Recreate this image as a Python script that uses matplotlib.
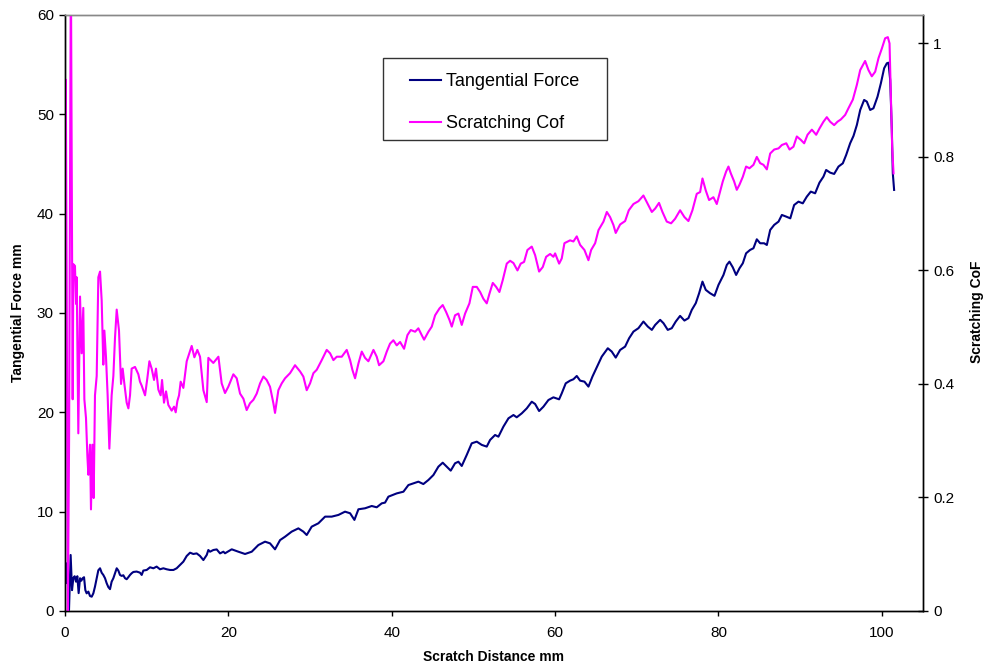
import matplotlib
matplotlib.use("Agg")
import matplotlib.pyplot as plt
from matplotlib.patches import Rectangle

plt.rcParams['font.family'] = ['Liberation Sans', 'DejaVu Sans']

# ---------------- data ----------------
force_x = [0.05, 0.12, 0.2, 0.33, 0.49, 0.69, 0.86, 1.02, 1.18, 1.35, 1.51, 1.67, 1.84, 2.0, 2.16,
           2.33, 2.49, 2.65, 2.86, 3.06, 3.27, 3.47, 3.67, 3.88, 4.08, 4.29, 4.49, 4.69, 4.90, 5.10,
           5.31, 5.51, 5.71, 5.92, 6.12, 6.33, 6.53, 6.73, 6.94, 7.14, 7.35, 7.55, 7.75, 7.96, 8.16,
           8.37, 8.77, 9.18, 9.39, 9.59, 10.0, 10.41, 10.82, 11.22, 11.63, 12.04, 12.45, 12.86, 13.27,
           13.67, 14.08, 14.49, 14.90, 15.31, 15.71, 16.12, 16.53, 16.94, 17.35, 17.55, 17.76, 18.16,
           18.57, 18.98, 19.39, 19.59, 20.41, 21.22, 22.04, 22.86, 23.67, 24.49, 25.10, 25.71, 26.33,
           26.94, 27.75, 28.57, 29.18, 29.59, 30.20, 31.02, 31.84, 32.65, 33.47, 34.28, 34.9, 35.43,
           35.92, 36.73, 37.55, 38.16, 38.78, 39.18, 39.59, 40.61, 41.43, 42.04, 42.65, 43.26, 43.87,
           44.49, 45.10, 45.71, 46.24, 46.73, 47.22, 47.75, 48.16, 48.57, 49.18, 49.79, 50.41, 51.02,
           51.63, 52.04, 52.65, 53.06, 53.67, 54.29, 54.90, 55.30, 55.92, 56.53, 57.14, 57.55, 58.04,
           58.57, 59.18, 59.79, 60.49, 60.81, 61.30, 61.83, 62.24, 62.65, 63.06, 63.59, 64.08, 64.57,
           65.10, 65.71, 66.45, 66.93, 67.42, 67.96, 68.57, 69.06, 69.59, 70.2, 70.81, 71.35, 71.84,
           72.25, 72.86, 73.27, 73.79, 74.28, 74.77, 75.3, 75.83, 76.32, 76.73, 77.22, 77.63, 78.04,
           78.44, 78.97, 79.51, 80.0, 80.61, 81.02, 81.34, 81.75, 82.16, 82.57, 82.98, 83.38, 83.87,
           84.28, 84.69, 85.1, 85.59, 85.92, 86.33, 86.82, 87.35, 87.76, 88.3, 88.79, 89.26, 89.79,
           90.32, 90.81, 91.30, 91.83, 92.36, 92.85, 93.18, 93.67, 94.16, 94.69, 95.22, 95.63, 96.12,
           96.53, 96.94, 97.35, 97.83, 98.16, 98.57, 98.97, 99.47, 99.88, 100.28, 100.61, 100.81,
           101.02, 101.22, 101.34, 101.5]
force_y = [4.6, 2.8, 4.8, 4.0, 0.1, 5.64, 2.1, 3.3, 3.5, 2.95, 3.5, 1.8, 3.3, 3.05, 3.3,
           3.4, 2.1, 1.78, 1.95, 1.51, 1.44, 1.78, 2.45, 3.3, 4.1, 4.3, 3.85, 3.63, 3.3, 2.8,
           2.4, 2.2, 2.95, 3.3, 3.8, 4.3, 4.07, 3.63, 3.53, 3.6, 3.3, 3.2, 3.4, 3.63, 3.8,
           3.93, 3.97, 3.86, 3.63, 4.07, 4.13, 4.4, 4.3, 4.47, 4.2, 4.3, 4.2, 4.13, 4.13,
           4.3, 4.63, 4.97, 5.54, 5.87, 5.74, 5.8, 5.54, 5.13, 5.64, 6.14, 5.97, 6.14,
           6.2, 5.8, 5.97, 5.81, 6.21, 5.97, 5.74, 5.97, 6.64, 6.98, 6.81, 6.21, 7.14,
           7.48, 7.99, 8.32, 7.99, 7.65, 8.49, 8.83, 9.5, 9.5, 9.67, 10.0, 9.84, 9.17,
           10.24, 10.34, 10.57, 10.44, 10.84, 10.91, 11.51, 11.84, 12.01, 12.68, 12.85, 13.02, 12.78,
           13.19, 13.69, 14.53, 14.93, 14.53, 14.13, 14.87, 15.03, 14.6, 15.71, 16.88, 17.05, 16.72,
           16.55, 17.22, 17.72, 17.55, 18.56, 19.4, 19.73, 19.5, 19.9, 20.4, 21.07, 20.84, 20.13,
           20.57, 21.24, 21.51, 21.31, 21.91, 22.92, 23.19, 23.33, 23.66, 23.19, 23.09, 22.59, 23.6,
           24.54, 25.61, 26.45, 26.12, 25.51, 26.28, 26.62, 27.46, 28.13, 28.47, 29.14, 28.63, 28.3,
           28.8, 29.31, 28.97, 28.3, 28.47, 29.14, 29.71, 29.24, 29.48, 30.31, 30.99, 31.99, 33.16,
           32.33, 31.99, 31.73, 32.83, 33.83, 34.84, 35.17, 34.6, 33.83, 34.5, 35.01, 36.01, 36.35,
           36.52, 37.42, 37.02, 37.02, 36.85, 38.36, 38.87, 39.2, 39.87, 39.7, 39.53, 40.87, 41.21,
           41.04, 41.71, 42.22, 42.05, 43.12, 43.73, 44.40, 44.13, 44.0, 44.74, 45.07, 45.91, 47.09,
           47.83, 48.93, 50.44, 51.45, 51.28, 50.44, 50.61, 51.78, 53.13, 54.64, 55.14, 55.2,
           53.47, 48.43, 44.07, 42.39]

cof_x = [0.0, 0.1, 0.2, 0.35, 0.5, 0.72, 0.94, 1.02, 1.22, 1.35, 1.43, 1.63, 1.84, 2.04, 2.24,
         2.37, 2.57, 2.74, 2.86, 3.06, 3.18, 3.35, 3.51, 3.67, 3.88, 4.08, 4.29, 4.49, 4.69, 4.82,
         5.02, 5.22, 5.43, 5.71, 5.92, 6.12, 6.33, 6.61, 6.86, 7.06, 7.27, 7.55, 7.76, 7.96, 8.16,
         8.57, 8.98, 9.18, 9.39, 9.80, 10.08, 10.33, 10.61, 10.90, 11.14, 11.43, 11.71, 11.88, 12.12,
         12.37, 12.65, 13.06, 13.35, 13.55, 13.76, 13.96, 14.16, 14.49, 14.90, 15.51, 15.84, 16.20,
         16.53, 16.94, 17.35, 17.55, 18.16, 18.78, 19.18, 19.59, 19.99, 20.61, 21.02, 21.43, 21.84,
         22.24, 22.65, 23.06, 23.47, 23.88, 24.29, 24.69, 25.10, 25.51, 25.71, 26.12, 26.53, 26.94,
         27.55, 28.16, 28.78, 29.18, 29.59, 30.0, 30.41, 30.82, 31.43, 32.04, 32.45, 32.86, 33.27,
         33.88, 34.49, 34.90, 35.18, 35.51, 35.92, 36.33, 36.73, 37.14, 37.76, 38.16, 38.45, 38.98,
         39.39, 39.79, 40.2, 40.61, 41.02, 41.51, 41.92, 42.33, 42.86, 43.26, 43.67, 43.96, 44.49,
         44.9, 45.31, 45.84, 46.24, 46.65, 47.06, 47.35, 47.75, 48.16, 48.57, 48.98, 49.51, 49.92,
         50.41, 50.82, 51.22, 51.63, 51.96, 52.37, 52.78, 53.18, 53.59, 54.08, 54.49, 54.9, 55.39,
         55.79, 56.2, 56.61, 57.14, 57.55, 58.04, 58.49, 58.9, 59.39, 59.79, 60.0, 60.49, 60.81,
         61.14, 61.83, 62.24, 62.65, 63.06, 63.59, 64.08, 64.41, 64.90, 65.31, 65.92, 66.33, 66.73,
         67.14, 67.42, 67.96, 68.57, 69.02, 69.59, 70.2, 70.81, 71.35, 71.84, 72.25, 72.72, 73.14,
         73.67, 74.2, 74.69, 75.3, 75.83, 76.32, 76.81, 77.34, 77.75, 78.04, 78.44, 78.85, 79.38,
         79.79, 80.2, 80.53, 80.93, 81.22, 81.51, 81.91, 82.24, 82.57, 82.98, 83.38, 83.79, 84.28,
         84.69, 85.1, 85.51, 85.92, 86.33, 86.82, 87.35, 87.76, 88.3, 88.70, 89.18, 89.59, 90.08,
         90.49, 90.90, 91.43, 91.96, 92.36, 92.85, 93.26, 93.67, 94.16, 94.57, 94.98, 95.51, 95.92,
         96.45, 96.94, 97.35, 97.95, 98.36, 98.77, 99.18, 99.59, 100.0, 100.4, 100.73, 100.94,
         101.1, 101.26, 101.43]
cof_y = [0.56, 0.936, 0.60, 0.0, 0.3, 1.15, 0.373, 0.611, 0.608, 0.541, 0.588, 0.313, 0.554, 0.454, 0.534,
         0.373, 0.340, 0.273, 0.240, 0.293, 0.179, 0.293, 0.199, 0.380, 0.414, 0.588, 0.598, 0.547, 0.434, 0.494,
         0.447, 0.380, 0.286, 0.380, 0.414, 0.481, 0.531, 0.494, 0.400, 0.427, 0.400, 0.367, 0.357, 0.380, 0.427,
         0.430, 0.417, 0.404, 0.397, 0.380, 0.410, 0.440, 0.427, 0.407, 0.427, 0.390, 0.380, 0.407, 0.367,
         0.387, 0.363, 0.353, 0.360, 0.350, 0.370, 0.380, 0.404, 0.393, 0.440, 0.467, 0.447, 0.460,
         0.448, 0.389, 0.368, 0.446, 0.437, 0.448, 0.401, 0.384, 0.395, 0.417, 0.410, 0.383, 0.374,
         0.354, 0.366, 0.372, 0.383, 0.401, 0.413, 0.407, 0.395, 0.366, 0.349, 0.389, 0.401, 0.410,
         0.419, 0.433, 0.422, 0.413, 0.389, 0.401, 0.419, 0.425, 0.442, 0.460, 0.454, 0.442, 0.448,
         0.448, 0.460, 0.442, 0.425, 0.410, 0.436, 0.457, 0.446, 0.440, 0.460, 0.448, 0.433, 0.440,
         0.457, 0.471, 0.477, 0.468, 0.474, 0.462, 0.486, 0.495, 0.492, 0.498, 0.486, 0.478, 0.492,
         0.501, 0.521, 0.533, 0.539, 0.527, 0.513, 0.501, 0.521, 0.524, 0.504, 0.524, 0.542, 0.571,
         0.571, 0.562, 0.550, 0.542, 0.559, 0.578, 0.571, 0.562, 0.583, 0.612, 0.617, 0.613, 0.600,
         0.612, 0.615, 0.636, 0.642, 0.627, 0.598, 0.606, 0.624, 0.629, 0.624, 0.630, 0.612, 0.621,
         0.648, 0.653, 0.651, 0.660, 0.645, 0.636, 0.618, 0.636, 0.648, 0.671, 0.686, 0.703, 0.694,
         0.680, 0.666, 0.681, 0.687, 0.706, 0.717, 0.722, 0.732, 0.717, 0.703, 0.709, 0.719, 0.703,
         0.686, 0.683, 0.691, 0.706, 0.694, 0.687, 0.706, 0.735, 0.738, 0.762, 0.741, 0.724, 0.729,
         0.717, 0.739, 0.757, 0.774, 0.783, 0.771, 0.757, 0.742, 0.751, 0.765, 0.783, 0.780, 0.786,
         0.800, 0.789, 0.786, 0.778, 0.806, 0.813, 0.815, 0.821, 0.824, 0.813, 0.818, 0.836, 0.830,
         0.824, 0.839, 0.848, 0.839, 0.850, 0.862, 0.870, 0.862, 0.856, 0.862, 0.866, 0.874, 0.886,
         0.901, 0.927, 0.953, 0.969, 0.953, 0.942, 0.950, 0.974, 0.991, 1.009, 1.011, 1.000,
         0.906, 0.818, 0.771]

x_ticks = [0, 20, 40, 60, 80, 100]
left_ticks = [0, 10, 20, 30, 40, 50, 60]
right_ticks = [0, 0.2, 0.4, 0.6, 0.8, 1.0]
right_tick_labels = ["0", "0.2", "0.4", "0.6", "0.8", "1"]

# ---------------- figure ----------------
W, H = 988, 668
fig = plt.figure(figsize=(W / 100, H / 100), dpi=100)
L, R, T, B = 65, 922.7, 15, 611
ax = fig.add_axes([L / W, 1 - B / H, (R - L) / W, (B - T) / H])
ax2 = ax.twinx()

blue = '#000080'
pink = '#FF00FF'

ax.plot(force_x, force_y, color=blue, lw=1.5, label='Tangential Force')
ax2.plot(cof_x, cof_y, color=pink, lw=1.5, label='Scratching Cof')

ax.set_xlim(0, 105)
ax.set_ylim(0, 60)
ax2.set_ylim(0, 1.05)

ax.set_xticks(x_ticks)
ax.set_yticks(left_ticks)
ax2.set_yticks(right_ticks)
ax2.set_yticklabels(right_tick_labels)

tick_fs = 11
ax.tick_params(axis='y', direction='out', length=4, width=1, labelsize=tick_fs, pad=4, colors='black')
ax.tick_params(axis='x', direction='out', length=3.5, width=1, labelsize=tick_fs, pad=7.5, colors='black')
ax2.tick_params(axis='y', direction='inout', length=7, width=1, labelsize=tick_fs, pad=4, colors='black')

for a in (ax, ax2):
    a.spines['top'].set_color('#888888')
    a.spines['left'].set_color('black')
    a.spines['right'].set_color('black')
    a.spines['bottom'].set_color('black')
    for s in a.spines.values():
        s.set_linewidth(1.0)

# axis titles
fig.text(18 / W, 1 - 313 / H, 'Tangential Force mm', rotation=90, ha='center', va='center',
         fontsize=10, fontweight='bold')
fig.text(977 / W, 1 - 312 / H, 'Scratching CoF', rotation=90, ha='center', va='center',
         fontsize=10, fontweight='bold')
fig.text(493 / W, 1 - 657 / H, 'Scratch Distance mm', ha='center', va='center',
         fontsize=10, fontweight='bold')

# legend box
def ax_x(px):
    return (px - L) / (R - L)

def ax_y(py):
    return (B - py) / (B - T)

box = Rectangle((ax_x(383), ax_y(140)), ax_x(607) - ax_x(383), ax_y(58) - ax_y(140),
                transform=ax2.transAxes, facecolor='white', edgecolor='#333333', lw=1.0, zorder=4)
ax2.add_patch(box)
h1, l1 = ax.get_legend_handles_labels()
h2, l2 = ax2.get_legend_handles_labels()
leg = ax2.legend(h1 + h2, l1 + l2, loc='upper left', bbox_to_anchor=(ax_x(410), ax_y(73)),
                 bbox_transform=ax2.transAxes, frameon=False, fontsize=13, borderpad=0,
                 borderaxespad=0, handlelength=1.72, handletextpad=0.28, labelspacing=1.4)
leg.set_zorder(5)

fig.savefig('out.png', dpi=100)
